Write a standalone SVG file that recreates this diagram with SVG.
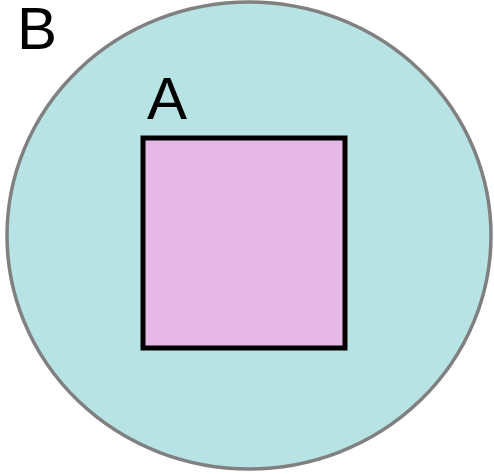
<svg xmlns="http://www.w3.org/2000/svg" width="494" height="474" viewBox="0 0 494 474">
<style>
.lbl{font-family:"Liberation Sans",Arial,sans-serif;font-size:60px;fill:#000}
</style>
<rect width="494" height="474" fill="#fff"/>
<g id="B">
<ellipse cx="249" cy="235.5" rx="242" ry="233.5" fill="#b7e3e4" stroke="#808080" stroke-width="3.5"/>
<text class="lbl" x="17" y="49">B</text>
</g>
<g id="A">
<rect x="143" y="138" width="202" height="210" fill="#e6b8e6" stroke="#000" stroke-width="5"/>
<text class="lbl" x="147" y="118.5">A</text>
</g>
<g id="connectors"/>
</svg>
